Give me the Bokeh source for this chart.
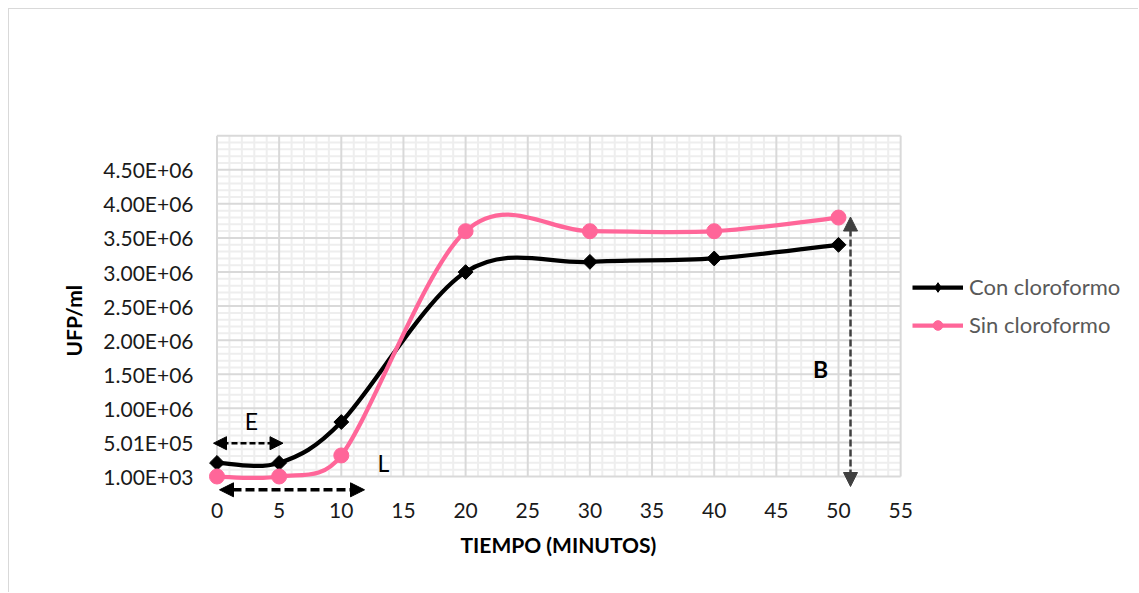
import math
from bokeh.plotting import figure
from bokeh.models import (Range1d, FixedTicker, Legend, LegendItem, Arrow,
                          NormalHead, Label, Title)
from bokeh.embed import file_html
from bokeh.resources import INLINE

# ---------------- data ----------------
tiempo = [0, 5, 10, 20, 30, 40, 50]
con_cloroformo = [2.0e5, 2.0e5, 8.0e5, 3.0e6, 3.15e6, 3.2e6, 3.4e6]
sin_cloroformo = [1.0e3, 1.0e3, 3.1e5, 3.6e6, 3.6e6, 3.6e6, 3.8e6]

x_ticks = [0, 5, 10, 15, 20, 25, 30, 35, 40, 45, 50, 55]
y_ticks = [1000, 501000, 1001000, 1501000, 2001000, 2501000,
           3001000, 3501000, 4001000, 4501000]
y_tick_labels = ["1.00E+03", "5.01E+05", "1.00E+06", "1.50E+06", "2.00E+06",
                 "2.50E+06", "3.00E+06", "3.50E+06", "4.00E+06", "4.50E+06"]

# ---------------- layout constants (page pixels) ----------------
W, H = 1130, 584
OX, OY = 9, 9                  # canvas origin on the page
PX0, UX = 216.5, 12.43         # page px of x=0, px per minute
PY0, UY = 476.0, 34.08         # page px of y=1000, px per 5e5
F_L, F_R, F_T, F_B = 205, 1137, 128, 498   # frame edges (page px)

def px2x(px):
    return (px - PX0) / UX

def py2y(py):
    return 1000 + (PY0 - py) / UY * 5e5

FONT = "Lato"
PINK = "#FF6699"
BLACK = "#000000"

p = figure(width=W, height=H, output_backend="svg", toolbar_location=None,
           x_range=Range1d(px2x(F_L), px2x(F_R)),
           y_range=Range1d(py2y(F_B), py2y(F_T)),
           min_border_left=F_L - OX, min_border_right=W - (F_R - OX),
           min_border_top=F_T - OY, min_border_bottom=H - (F_B - OY))
p.styles = {"border-left": "1px solid #d9d9d9", "border-top": "1px solid #d9d9d9",
            "margin-left": "8px", "margin-top": "8px"}
p.outline_line_color = None
p.grid.visible = False
p.background_fill_color = "white"
p.border_fill_color = "white"

# ---------------- grid (drawn within data extent) ----------------
x_lo, x_hi = x_ticks[0], x_ticks[-1]
y_lo, y_hi = y_ticks[0], y_ticks[-1] + (y_ticks[1] - y_ticks[0])
minor_x = [v for v in range(x_lo, x_hi + 1) if v % 5 != 0]
minor_y = [y_lo + 100000 * k for k in range(0, 51) if k % 5 != 0]
major_y = y_ticks + [y_hi]

p.segment(x0=minor_x, y0=[y_lo] * len(minor_x), x1=minor_x, y1=[y_hi] * len(minor_x),
          line_color="#eeeeee", line_width=2)
p.segment(x0=[x_lo] * len(minor_y), y0=minor_y, x1=[x_hi] * len(minor_y), y1=minor_y,
          line_color="#eeeeee", line_width=2)
p.segment(x0=x_ticks, y0=[y_lo] * len(x_ticks), x1=x_ticks, y1=[y_hi] * len(x_ticks),
          line_color="#d9d9d9", line_width=2)
p.segment(x0=[x_lo] * len(major_y), y0=major_y, x1=[x_hi] * len(major_y), y1=major_y,
          line_color="#d9d9d9", line_width=2)

# ---------------- smoothed series (Excel-like bezier smoothing) ----------------
YPX = UY / 5e5   # px per y unit, for measuring lengths on screen

def bezier_pts(xs, ys, f=1 / 6, clamp=0.5):
    n = len(xs)
    out = dict(x0=[], y0=[], x1=[], y1=[], cx0=[], cy0=[], cx1=[], cy1=[])

    def limit(dx, dy, seg):
        ln = math.hypot(dx * UX, dy * YPX)
        if ln > clamp * seg and ln > 0:
            k = clamp * seg / ln
            return dx * k, dy * k
        return dx, dy

    for i in range(n - 1):
        a = i - 1 if i > 0 else i
        d = i + 2 if i + 2 < n else i + 1
        seg = math.hypot((xs[i + 1] - xs[i]) * UX, (ys[i + 1] - ys[i]) * YPX)
        dx0, dy0 = limit((xs[i + 1] - xs[a]) * f, (ys[i + 1] - ys[a]) * f, seg)
        dx1, dy1 = limit((xs[d] - xs[i]) * f, (ys[d] - ys[i]) * f, seg)
        out["x0"].append(xs[i]); out["y0"].append(ys[i])
        out["x1"].append(xs[i + 1]); out["y1"].append(ys[i + 1])
        out["cx0"].append(xs[i] + dx0); out["cy0"].append(ys[i] + dy0)
        out["cx1"].append(xs[i + 1] - dx1); out["cy1"].append(ys[i + 1] - dy1)
    return out

b1 = p.bezier(**bezier_pts(tiempo, con_cloroformo), line_color=BLACK, line_width=4.25)
s1 = p.scatter(tiempo, con_cloroformo, marker="square", angle=0.785398, size=10.5,
               fill_color=BLACK, line_color=BLACK)
b2 = p.bezier(**bezier_pts(tiempo, sin_cloroformo), line_color=PINK, line_width=4.25)
s2 = p.scatter(tiempo, sin_cloroformo, marker="circle", size=15,
               fill_color=PINK, line_color=PINK)
# legend-only marker glyphs (hidden in the plot, drawn in the legend)
k1 = p.scatter(tiempo, con_cloroformo, marker="diamond", size=13,
               fill_color=BLACK, line_color=BLACK, visible=False)
k2 = p.scatter(tiempo, sin_cloroformo, marker="circle", size=12,
               fill_color=PINK, line_color=PINK, visible=False)

# ---------------- axes ----------------
p.xaxis.ticker = FixedTicker(ticks=x_ticks, minor_ticks=[])
p.yaxis.ticker = FixedTicker(ticks=y_ticks, minor_ticks=[])
p.yaxis.major_label_overrides = {v: s for v, s in zip(y_ticks, y_tick_labels)}
for ax in (p.xaxis[0], p.yaxis[0]):
    ax.axis_line_color = None
    ax.major_tick_line_color = None
    ax.minor_tick_line_color = None
    ax.major_label_text_font = FONT
    ax.major_label_text_font_size = "21px"
    ax.major_label_text_color = "#1a1a1a"
p.xaxis.major_label_standoff = -2
p.yaxis.major_label_standoff = 6

# axis titles as panels (so they can be placed off the frame centre)
p.add_layout(Title(text="TIEMPO (MINUTOS)", align="left", offset=460 - F_L,
                   text_font=FONT, text_font_size="21px", text_font_style="bold",
                   text_color="#000000", standoff=18), "below")
p.add_layout(Title(text="UFP/ml", align="left", offset=F_B - 356,
                   text_font=FONT, text_font_size="21px", text_font_style="bold",
                   text_color="#000000", standoff=30), "left")

# ---------------- annotations ----------------
def head(color, size):
    return NormalHead(size=size, fill_color=color, line_color=color)

# E arrow
p.add_layout(Arrow(start=head(BLACK, 13), end=head(BLACK, 13),
                   x_start=px2x(213), y_start=py2y(442.7), x_end=px2x(282.5), y_end=py2y(442.7),
                   line_color=BLACK, line_width=2.5, line_dash="6 3"))
# L arrow
p.add_layout(Arrow(start=head(BLACK, 14), end=head(BLACK, 14),
                   x_start=px2x(219), y_start=py2y(489.3), x_end=px2x(364), y_end=py2y(489.3),
                   line_color=BLACK, line_width=3.5, line_dash="9 4"))
# B arrow
p.add_layout(Arrow(start=head("#404040", 14), end=head("#404040", 14),
                   x_start=px2x(850), y_start=py2y(486), x_end=px2x(850), y_end=py2y(216.5),
                   line_color="#404040", line_width=2.5, line_dash="7 3"))

p.add_layout(Label(x=px2x(251), y=py2y(420), text="E", text_font=FONT,
                   text_font_size="23px", text_align="center", text_baseline="middle",
                   text_color="#000000"))
p.add_layout(Label(x=px2x(383), y=py2y(462), text="L", text_font=FONT,
                   text_font_size="23px", text_align="center", text_baseline="middle",
                   text_color="#000000"))
p.add_layout(Label(x=px2x(820), y=py2y(368), text="B", text_font=FONT,
                   text_font_size="23px", text_font_style="bold", text_align="center",
                   text_baseline="middle", text_color="#000000"))

# ---------------- legend ----------------
legend = Legend(items=[LegendItem(label="Con cloroformo", renderers=[b1, k1]),
                       LegendItem(label="Sin cloroformo", renderers=[b2, k2])],
                location=(912 - F_L, F_B - 338), orientation="vertical",
                glyph_width=51, glyph_height=24, label_height=24, spacing=11,
                label_standoff=6, padding=0, margin=0,
                border_line_color=None, background_fill_alpha=0,
                inactive_fill_alpha=0,
                label_text_font=FONT, label_text_font_size="22px",
                label_text_color="#595959")
p.add_layout(legend, "center")

open("out.html", "w").write(file_html(p, INLINE))
